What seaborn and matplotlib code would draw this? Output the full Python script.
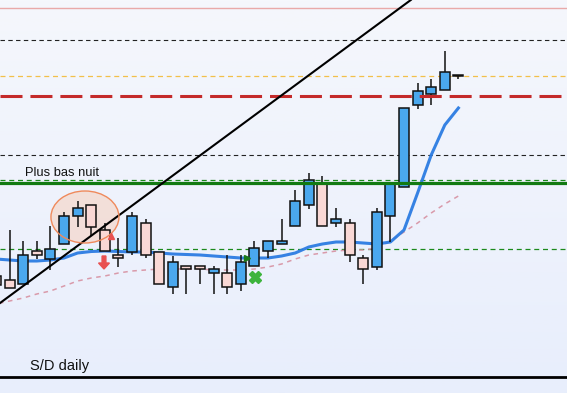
import numpy as np
import pandas as pd
import matplotlib
matplotlib.use("Agg")
import matplotlib.pyplot as plt
import seaborn as sns
from matplotlib.patches import Ellipse

# ---------------- data (price units) ----------------
opens  = [117, 113, 109, 142, 134, 149, 177, 188, 163, 138, 141, 170, 141, 106, 127, 127, 120, 120, 109,
          127, 142, 149, 167, 188, 210, 170, 170, 135, 126, 177, 206, 288, 299, 303, 317]
closes = [108, 105, 138, 138, 144, 177, 185, 166, 142, 135, 177, 138, 109, 131, 124, 124, 124, 106, 131,
          145, 152, 152, 192, 213, 167, 174, 138, 124, 181, 210, 285, 302, 306, 321, 317]
highs  = [117, 163, 152, 152, 167, 181, 192, 188, 170, 155, 181, 174, 141, 137, 127, 127, 127, 138, 138,
          152, 152, 174, 203, 220, 217, 185, 174, 138, 185, 210, 285, 310, 314, 342, 317]
lows   = [108, 105, 109, 134, 123, 149, 166, 157, 142, 126, 138, 135, 109, 99, 99, 109, 99, 99, 102,
          127, 135, 149, 167, 184, 167, 166, 131, 109, 123, 151, 206, 284, 288, 303, 314]
ma_fast = [134, 133, 132, 132, 133, 135, 140, 141.5, 142, 141.5, 141, 141, 140, 139, 138.5, 138, 137, 136,
           135, 135, 135, 137, 140, 146, 149, 151, 151, 150, 149, 151, 163, 200, 238, 268, 285]
ma_slow = [89, 92, 95, 99, 102, 107, 112, 115, 117, 120, 122, 123, 124, 124, 124, 124, 123, 123, 123, 124,
           126, 129, 134, 138, 140, 142, 143, 143, 145, 152, 161, 170, 180, 189, 197]

level_top_red = 385
level_black_hi = 353
level_orange = 317
level_red = 297
level_black_lo = 238
level_green_dash_hi = 213
level_green = 210
level_green_dash_lo = 144
level_bottom = 16

trend_pts_x = [0, 30]
trend_pts_y = [87, 388]

label_night = "Plus bas nuit"
label_sd = "S/D daily"

# ---------------- figure ----------------
W, H = 567, 393
fig = plt.figure(figsize=(W / 100, H / 100), dpi=100)
ax = fig.add_axes([0, 0, 1, 1])
x_lo, x_hi = (0 + 4) / 13.6, (W + 4) / 13.6
ax.set_xlim(x_lo, x_hi)
ax.set_ylim(0, H)
ax.axis("off")

# background gradient
grad = np.linspace(0, 1, 256)[:, None]
top = np.array([245, 247, 252]) / 255
bot = np.array([232, 238, 252]) / 255
img = top[None, None, :] * (1 - grad[:, :, None]) + bot[None, None, :] * grad[:, :, None]
ax.imshow(img, extent=[x_lo, x_hi, 0, H], aspect="auto", origin="upper", zorder=0)

# horizontal levels
ax.axhline(level_top_red, color="#e9a9a9", lw=1.0, zorder=1)
ax.axhline(level_black_hi, color="#222222", lw=0.8, ls=(0, (4, 3)), zorder=1)
ax.axhline(level_orange, color="#f2c04a", lw=0.9, ls=(0, (4, 3)), zorder=1)
ax.axhline(level_black_lo, color="#222222", lw=0.8, ls=(0, (4, 3)), zorder=1)
ax.axhline(level_green_dash_hi, color="#1c8a1c", lw=0.9, ls=(0, (4, 3)), zorder=1)
ax.axhline(level_green_dash_lo, color="#1c8a1c", lw=0.9, ls=(0, (4, 3)), zorder=1)
ax.axhline(level_bottom, color="#000000", lw=2.0, zorder=1)

# ellipse highlight
ax.add_patch(Ellipse((6.54, 176), 5.0, 52, facecolor="#f9c8b0", alpha=0.45,
                     edgecolor="none", zorder=1.5))
ax.add_patch(Ellipse((6.54, 176), 5.0, 52, facecolor="none", edgecolor="#ef8a5c",
                     lw=1.0, zorder=4))

# moving averages (seaborn)
idx = np.arange(len(opens))
df = pd.DataFrame({"i": idx, "fast": ma_fast, "slow": ma_slow})
sns.lineplot(data=df, x="i", y="slow", ax=ax, color="#d99aaa", lw=1.1,
             linestyle=(0, (3, 3)), zorder=2)
sns.lineplot(data=df, x="i", y="fast", ax=ax, color="#2c7ce2", lw=2.2, zorder=2.5, alpha=0.95)

# candles
body_w = 0.735
for i, (o, c, h, l) in enumerate(zip(opens, closes, highs, lows)):
    ax.vlines(i, l, h, color="#111111", lw=1.1, zorder=3)
    up = c >= o
    col = "#4aa8ee" if up else "#f9d8d5"
    bottom = min(o, c)
    height = max(abs(c - o), 0.8)
    ax.bar(i, height, bottom=bottom, width=body_w, color=col, edgecolor="#111111",
           linewidth=1.1, zorder=3.2)

# solid levels over the candles
ax.axhline(level_green, color="#127a12", lw=2.3, zorder=3.5)
ax.axhline(level_red, color="#c42a2a", lw=2.2, ls=(0, (7.2, 2.6)), zorder=3.5)

# trendline
ax.axline((trend_pts_x[0], trend_pts_y[0]), (trend_pts_x[1], trend_pts_y[1]),
          color="#000000", lw=1.5, zorder=3.6)

# markers
ax.arrow(7.94, 137, 0, -7, width=0.28, head_width=0.8, head_length=6,
         length_includes_head=False, color="#e85050", zorder=4)
ax.plot([8.45], [157], marker="^", color="#e85050", ms=4, zorder=4)
ax.plot([19.04], [116], marker="X", color="#3cb43c", ms=9, mec="#3cb43c", zorder=4)
ax.plot([18.45], [135], marker=">", color="#1a7a1a", ms=4, zorder=4)

# labels
ax.text(2.13, 220, label_night, fontsize=9.3, family=["Liberation Sans", "DejaVu Sans"],
        va="center", ha="left", color="#111111", zorder=5)
ax.text(2.5, 27, label_sd, fontsize=10.5, family=["Liberation Sans", "DejaVu Sans"],
        va="center", ha="left", color="#111111", zorder=5)

fig.savefig("out.png", dpi=100)
